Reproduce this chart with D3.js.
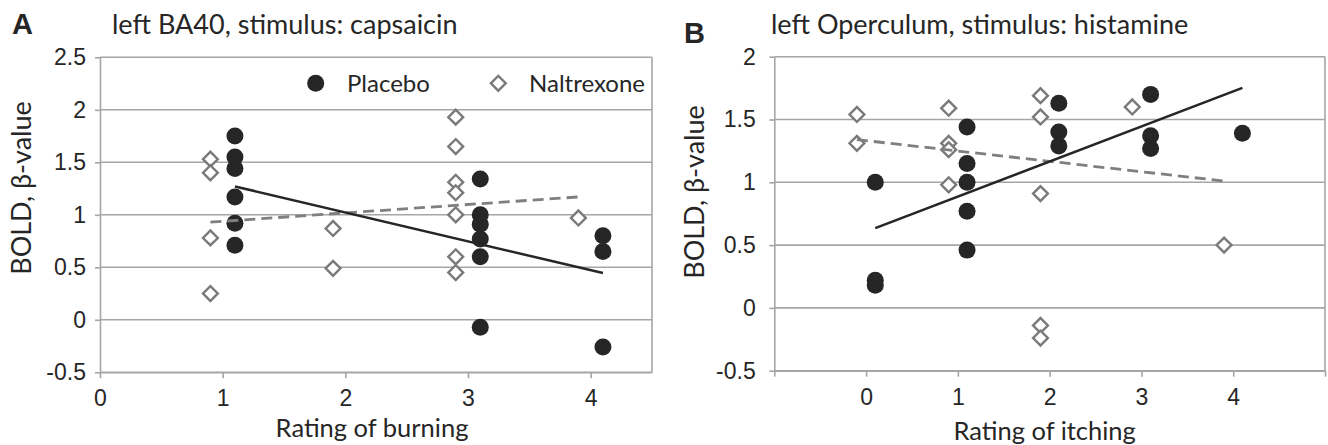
<!DOCTYPE html>
<html>
<head>
<meta charset="utf-8">
<script src="https://cdn.jsdelivr.net/npm/d3@7"></script>
<style>
  body { margin: 0; background: #fff; }
  svg { display: block; font-family: Lato, "Open Sans", sans-serif; }
</style>
</head>
<body>
<svg width="1328" height="445"></svg>
<script>
// panel A: left BA40, stimulus capsaicin  ([rating, beta])
const burningPlacebo = [[1.1,1.75],[1.1,1.55],[1.1,1.44],[1.1,1.17],[1.1,0.92],[1.1,0.71],
  [3.1,1.34],[3.1,1.0],[3.1,0.91],[3.1,0.77],[3.1,0.6],[3.1,-0.07],
  [4.1,0.8],[4.1,0.65],[4.1,-0.26]];
const burningNaltrexone = [[0.9,1.53],[0.9,1.4],[0.9,0.78],[0.9,0.25],[1.9,0.87],[1.9,0.49],
  [2.9,1.93],[2.9,1.65],[2.9,1.31],[2.9,1.21],[2.9,1.0],[2.9,0.6],[2.9,0.45],[3.9,0.97]];
const burningTrendPlacebo = [[1.1,1.27],[4.1,0.445]];
const burningTrendNaltrexone = [[0.9,0.93],[3.9,1.17]];
const burningXTicks = [0,1,2,3,4];
const burningYTicks = [-0.5,0,0.5,1,1.5,2,2.5];

// panel B: left Operculum, stimulus histamine
const itchingPlacebo = [[0.1,1.0],[0.1,0.22],[0.1,0.18],[1.1,1.44],[1.1,1.15],[1.1,1.0],[1.1,0.77],[1.1,0.46],
  [2.1,1.63],[2.1,1.4],[2.1,1.29],[3.1,1.7],[3.1,1.37],[3.1,1.27],[4.1,1.39]];
const itchingNaltrexone = [[-0.1,1.54],[-0.1,1.31],[0.9,1.59],[0.9,1.31],[0.9,1.26],[0.9,0.98],
  [1.9,1.69],[1.9,1.52],[1.9,0.91],[1.9,-0.14],[1.9,-0.24],[2.9,1.6],[3.9,0.5]];
const itchingTrendPlacebo = [[0.1,0.635],[4.1,1.752]];
const itchingTrendNaltrexone = [[-0.1,1.34],[3.9,1.01]];
const itchingXTicks = [-1,0,1,2,3,4,5];
const itchingXLabels = [0,1,2,3,4];
const itchingYTicks = [-0.5,0,0.5,1,1.5,2];

const svg = d3.select("svg");
const dark = "#262626", grey = "#a6a6a6", diamondGrey = "#7a7a7a", dashGrey = "#7f7f7f";
const diamond = d3.symbol().type(d3.symbolSquare).size(110);

function panel(o) {
  const x = d3.scaleLinear().domain(o.xDomain).range([o.left, o.right]);
  const y = d3.scaleLinear().domain(o.yDomain).range([o.bottom, o.top]);
  const g = svg.append("g");

  g.append("g").selectAll("line").data(o.yTicks).join("line")
    .attr("x1", o.left).attr("x2", o.right)
    .attr("y1", d => y(d)).attr("y2", d => y(d))
    .attr("stroke", grey).attr("stroke-width", 1.6);

  g.append("line")
    .attr("x1", o.right).attr("x2", o.right)
    .attr("y1", o.top).attr("y2", o.bottom)
    .attr("stroke", grey).attr("stroke-width", 1.6);

  const ya = g.append("g").attr("transform", `translate(${o.left},0)`)
    .call(d3.axisLeft(y).tickValues(o.yTicks).tickFormat(d => String(d))
      .tickSizeInner(5).tickSizeOuter(0).tickPadding(o.yPad));
  ya.select(".domain").attr("stroke", grey).attr("stroke-width", 1.6);
  ya.selectAll(".tick line").attr("stroke", grey).attr("stroke-width", 1.6);
  ya.selectAll(".tick text").attr("fill", dark).style("font-size", "23px");

  const xa = g.append("g").attr("transform", `translate(0,${o.bottom})`)
    .call(d3.axisBottom(x).tickValues(o.xTicks)
      .tickFormat(d => o.xLabels.includes(d) ? String(d) : "")
      .tickSizeInner(6).tickSizeOuter(0));
  xa.select(".domain").attr("stroke", grey).attr("stroke-width", 1.6);
  xa.selectAll(".tick line").attr("stroke", grey).attr("stroke-width", 1.6);
  xa.selectAll(".tick text").attr("fill", dark).attr("y", o.xLabelDy).attr("dy", null)
    .style("font-size", "23px");

  g.append("g").selectAll("path").data(o.naltrexone).join("path")
    .attr("d", diamond)
    .attr("transform", d => `translate(${x(d[0])},${y(d[1])}) rotate(45)`)
    .attr("fill", "#fff").attr("stroke", diamondGrey).attr("stroke-width", 2.4);

  g.append("g").selectAll("circle").data(o.placebo).join("circle")
    .attr("cx", d => x(d[0])).attr("cy", d => y(d[1])).attr("r", 8.5)
    .attr("fill", dark);

  const line = d3.line().x(d => x(d[0])).y(d => y(d[1]));
  g.append("path").datum(o.trendNaltrexone).attr("d", line)
    .attr("fill", "none").attr("stroke", dashGrey).attr("stroke-width", 2.8)
    .attr("stroke-dasharray", "11,6");
  g.append("path").datum(o.trendPlacebo).attr("d", line)
    .attr("fill", "none").attr("stroke", dark).attr("stroke-width", 2.5);

  g.append("text").attr("x", o.letterX).attr("y", o.letterY).text(o.letter)
    .attr("fill", dark).style("font-size", "29px").style("font-weight", "bold")
    .style("font-family", "'Liberation Sans', Arial, sans-serif");
  g.append("text").attr("x", o.titleX).attr("y", 34).text(o.title)
    .attr("fill", dark).style("font-size", "27px");
  g.append("text").attr("x", (o.left + o.right) / 2 + o.xTitleShift).attr("y", o.xTitleY)
    .attr("text-anchor", "middle").text(o.xTitle)
    .attr("fill", dark).style("font-size", "25.5px");
  g.append("text").attr("transform", "rotate(-90)")
    .attr("x", -o.yTitleCenter).attr("y", o.yTitleX)
    .attr("text-anchor", "middle").text("BOLD, β-value")
    .attr("fill", dark).style("font-size", "27px");
  return g;
}

const gA = panel({
  xDomain: [0, 4.5], yDomain: [-0.5, 2.5],
  left: 100, right: 652, top: 57.3, bottom: 372.3,
  yTicks: burningYTicks, xTicks: burningXTicks, xLabels: burningXTicks,
  yPad: 9, xLabelDy: 34,
  placebo: burningPlacebo, naltrexone: burningNaltrexone,
  trendPlacebo: burningTrendPlacebo, trendNaltrexone: burningTrendNaltrexone,
  letter: "A", letterX: 12, letterY: 34,
  title: "left BA40, stimulus: capsaicin", titleX: 112,
  xTitle: "Rating of burning", xTitleShift: -4, xTitleY: 437,
  yTitleCenter: 188, yTitleX: 31
});

panel({
  xDomain: [-1, 5], yDomain: [-0.5, 2],
  left: 774.3, right: 1325, top: 56.7, bottom: 370.7,
  yTicks: itchingYTicks, xTicks: itchingXTicks, xLabels: itchingXLabels,
  yPad: 13.6, xLabelDy: 34.3,
  placebo: itchingPlacebo, naltrexone: itchingNaltrexone,
  trendPlacebo: itchingTrendPlacebo, trendNaltrexone: itchingTrendNaltrexone,
  letter: "B", letterX: 684, letterY: 43,
  title: "left Operculum, stimulus: histamine", titleX: 771,
  xTitle: "Rating of itching", xTitleShift: -5, xTitleY: 440,
  yTitleCenter: 192, yTitleX: 704
});

// legend (panel A only)
const legend = gA.append("g");
legend.append("circle").attr("cx", 315.7).attr("cy", 83.3).attr("r", 8.5).attr("fill", dark);
legend.append("text").attr("x", 347).attr("y", 92).text("Placebo")
  .attr("fill", dark).style("font-size", "24px");
legend.append("path").attr("d", diamond)
  .attr("transform", "translate(498.3,83.3) rotate(45)")
  .attr("fill", "#fff").attr("stroke", diamondGrey).attr("stroke-width", 2.4);
legend.append("text").attr("x", 529).attr("y", 92).text("Naltrexone")
  .attr("fill", dark).style("font-size", "24px");
</script>
</body>
</html>
